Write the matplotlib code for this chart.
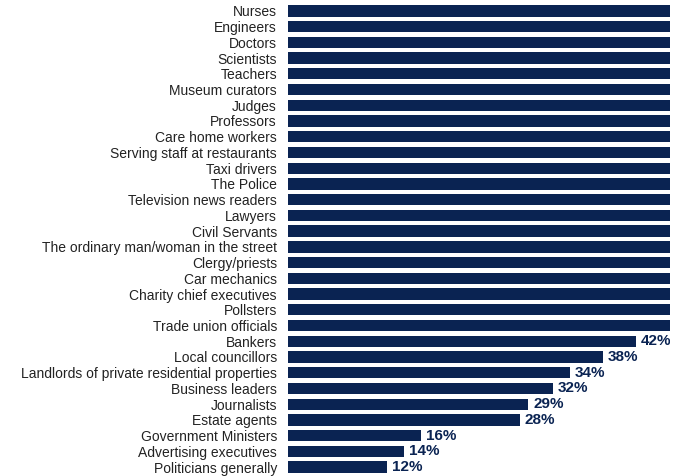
import matplotlib
matplotlib.use("Agg")
from matplotlib import pyplot as plt

categories = ["Nurses", "Engineers", "Doctors", "Scientists", "Teachers",
              "Museum curators", "Judges", "Professors", "Care home workers",
              "Serving staff at restaurants", "Taxi drivers", "The Police",
              "Television news readers", "Lawyers", "Civil Servants",
              "The ordinary man/woman in the street", "Clergy/priests",
              "Car mechanics", "Charity chief executives", "Pollsters",
              "Trade union officials", "Bankers", "Local councillors",
              "Landlords of private residential properties", "Business leaders",
              "Journalists", "Estate agents", "Government Ministers",
              "Advertising executives", "Politicians generally"]
# values above ~46% are cut off in the original picture, so those are estimates
values = [93, 90, 89, 85, 84, 82, 81, 80, 76, 74, 68, 67, 63, 61, 58,
          57, 55, 54, 51, 49, 48, 42, 38, 34, 32, 29, 28, 16, 14, 12]

navy = "#0a2352"
plt.rcParams['font.family'] = ['Liberation Sans', 'DejaVu Sans']

xmax = 46.1
fig = plt.figure(figsize=(6.75, 4.76), dpi=100)
ax = fig.add_axes([288/675, 1 - 475/476, 382/675, 472/476])
y = list(range(len(categories)))
ax.barh(y, values, height=0.72, color=navy)
for yi, v in zip(y, values):
    if v < xmax:
        ax.text(v + 0.6, yi, f"{v}%", va="center", ha="left", fontsize=11,
                fontweight="bold", color=navy, clip_on=True)
ax.set_xlim(0, xmax)
ax.set_ylim(len(categories) - 0.5, -0.5)
ax.set_yticks(y)
ax.set_yticklabels(categories, fontsize=10, color="#222222")
ax.tick_params(axis="y", length=0, pad=8)
ax.set_xticks([])
for s in ax.spines.values():
    s.set_visible(False)
fig.savefig("out.png", dpi=100)
